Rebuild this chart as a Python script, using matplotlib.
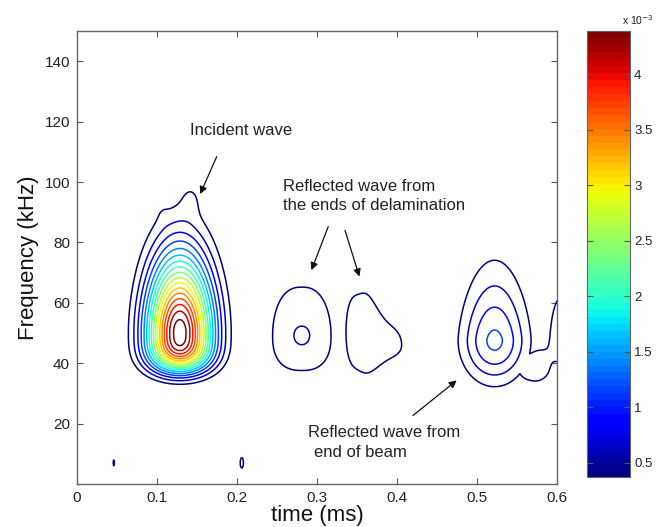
import numpy as np
import matplotlib
matplotlib.use("Agg")
import matplotlib.pyplot as plt
from matplotlib.colors import Normalize
from matplotlib.cm import ScalarMappable

plt.rcParams['font.family'] = ['Liberation Sans', 'DejaVu Sans']

# ---- data: energy blobs of the time-frequency map ----
# incident, bump, shoulder | delamL pedestal, delamL peak | delamR top, delamR lobe |
# end-of-beam | beyond-edge, bridge | blip1 | blip2
blob_group= [0,      0,     0,     1,     1,     2,     2,     3,     4,     4,     5,      6]
blob_t    = [0.1285, 0.143, 0.106, 0.281, 0.281, 0.352, 0.395, 0.522, 0.625, 0.572, 0.046,  0.206]
blob_f    = [50.5,   95.0,  90.0,  49.2,  49.2,  51.0,  46.0,  47.6,  51.0,  37.5,  7.0,    7.0]
blob_amp  = [4.55,   0.21,  0.06,  0.52,  0.20,  0.43,  0.44,  1.20,  1.00,  0.55,  0.45,   0.45]
blob_st_l = [0.041,  0.014, 0.008, 0.060, 0.0144,0.032, 0.030, 0.043, 0.033, 0.032, 0.0021, 0.0053]
blob_st_r = [0.041,  0.014, 0.008, 0.060, 0.0144,0.032, 0.030, 0.043, 0.033, 0.022, 0.0021, 0.0053]
blob_qt   = [2,      2,     2,     2.5,   2,     3,     2,     2,     2,     2,     2,      2]
blob_sf_up= [25.0,   6.0,   4.0,   29.8,  4.5,   34.0,  12.5,  24.5,  16.0,  9.0,   2.6,    4.5]
blob_sf_dn= [13.2,   6.0,   4.0,   19.1,  4.5,   34.0,  8.5,   14.5,  13.0,  5.5,   2.6,    4.5]
blob_q_up = [1.8,    2,     2,     2,     2,     2,     2,     1.5,   2,     2,     2,      2]
blob_q_dn = [3.2,    2,     2,     2.5,   2,     2,     2,     2,     2,     2,     2,      2]

levels = np.arange(0.39, 4.40, 0.25)
cbar_ticks = [0.5, 1, 1.5, 2, 2.5, 3, 3.5, 4]
cbar_labels = ['0.5', '1', '1.5', '2', '2.5', '3', '3.5', '4']
xticks = [0, 0.1, 0.2, 0.3, 0.4, 0.5, 0.6]
xlabels = ['0', '0.1', '0.2', '0.3', '0.4', '0.5', '0.6']
yticks = [20, 40, 60, 80, 100, 120, 140]

# ---- build field: sum blobs within a wave packet, max across packets ----
t = np.linspace(0, 0.6, 800)
f = np.linspace(0, 150, 700)
T, F = np.meshgrid(t, f)
groups = {}
for i in range(len(blob_t)):
    dtv = T - blob_t[i]
    et = np.where(dtv < 0, np.abs(dtv) / blob_st_l[i], np.abs(dtv) / blob_st_r[i]) ** blob_qt[i]
    dfv = F - blob_f[i]
    ef = np.where(dfv >= 0, (np.abs(dfv) / blob_sf_up[i]) ** blob_q_up[i],
                  (np.abs(dfv) / blob_sf_dn[i]) ** blob_q_dn[i])
    g = blob_group[i]
    groups[g] = groups.get(g, 0) + blob_amp[i] * np.exp(-et - ef)
Z = np.maximum.reduce(list(groups.values()))

cmap = plt.get_cmap('jet', 64)
norm = Normalize(vmin=0.37, vmax=4.39)

fig = plt.figure(figsize=(6.6, 5.27), dpi=100)
ax = fig.add_axes([77/660, 43/527, 480/660, 453/527])
ax.contour(T, F, Z, levels=levels, cmap=cmap, norm=norm, linewidths=1.1)
ax.set_xlim(0, 0.6)
ax.set_ylim(0, 150)
ax.set_xticks(xticks)
ax.set_xticklabels(xlabels)
ax.set_yticks(yticks)
ax.tick_params(direction='in', top=True, right=True, length=4, width=0.8,
               labelsize=11, colors='#555555', labelcolor='#222222', pad=5)
for s in ax.spines.values():
    s.set_color('#666666')
    s.set_linewidth(1.0)
ax.set_xlabel('time (ms)', fontsize=16, color='#111111', labelpad=0)
ax.set_ylabel('Frequency (kHz)', fontsize=16, color='#111111', labelpad=4)

akw = dict(arrowstyle='-|>', color='#111111', lw=0.9, mutation_scale=11, shrinkA=0, shrinkB=0)
ax.text(0.141, 117.2, 'Incident wave', fontsize=12, color='#222222', va='center', ha='left')
ax.annotate('', xy=(0.154, 96.0), xytext=(0.1746, 108.4), arrowprops=akw)
ax.text(0.2575, 98.6, 'Reflected wave from', fontsize=12, color='#222222', va='center', ha='left')
ax.text(0.2575, 92.3, 'the ends of delamination', fontsize=12, color='#222222', va='center', ha='left')
ax.annotate('', xy=(0.293, 70.8), xytext=(0.314, 85.2), arrowprops=akw)
ax.annotate('', xy=(0.353, 68.7), xytext=(0.335, 84.0), arrowprops=akw)
ax.text(0.289, 17.2, 'Reflected wave from', fontsize=12, color='#222222', va='center', ha='left')
ax.text(0.2965, 10.5, 'end of beam', fontsize=12, color='#222222', va='center', ha='left')
ax.annotate('', xy=(0.4746, 34.3), xytext=(0.42, 22.7), arrowprops=akw)

# colorbar
cax = fig.add_axes([587/660, 50/527, 43/660, 446/527])
sm = ScalarMappable(norm=norm, cmap=cmap)
cb = fig.colorbar(sm, cax=cax)
cb.set_ticks(cbar_ticks)
cb.set_ticklabels(cbar_labels)
cb.outline.set_edgecolor('#666666')
cax.tick_params(direction='in', left=True, right=True, labelleft=False, labelright=True,
                length=4, width=0.8, labelsize=9.5, colors='#555555', labelcolor='#222222', pad=3)
fig.text(622/660, 1 - 20/527, 'x 10$^{-3}$', fontsize=7.5, color='#222222', va='center', ha='left')

fig.savefig('out.png', dpi=100)
